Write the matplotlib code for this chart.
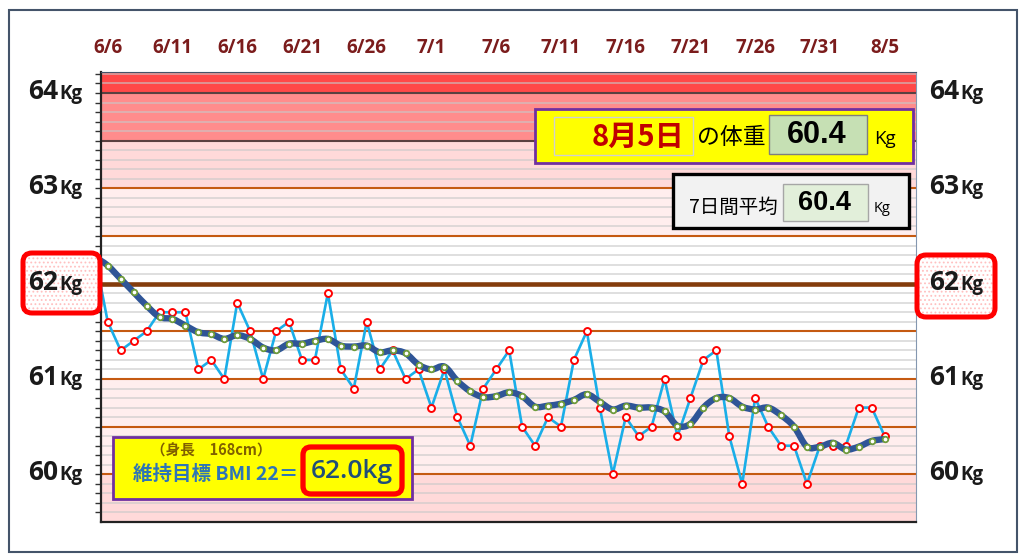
import numpy as np
import pandas as pd
import matplotlib
matplotlib.use("Agg")
import matplotlib.pyplot as plt
import matplotlib.dates as mdates
import matplotlib.transforms as mtrans
from matplotlib.patches import Rectangle, FancyBboxPatch, PathPatch
from matplotlib.path import Path

plt.rcParams['font.family'] = ['Noto Sans CJK JP', 'DejaVu Sans']
plt.rcParams['hatch.linewidth'] = 0.8

# 6/5 は左端で切れる前日の値
dates = pd.date_range("2024-06-05", "2024-08-05", freq="D")
weight = [62.3, 61.6, 61.3, 61.4, 61.5, 61.7, 61.7, 61.7, 61.1, 61.2, 61.0,
          61.8, 61.5, 61.0, 61.5, 61.6, 61.2, 61.2, 61.9, 61.1, 60.9, 61.6,
          61.1, 61.3, 61.0, 61.1, 60.7, 61.1, 60.6, 60.3, 60.9, 61.1, 61.3,
          60.5, 60.3, 60.6, 60.5, 61.2, 61.5, 60.7, 60.0, 60.6, 60.4, 60.5,
          61.0, 60.4, 60.8, 61.2, 61.3, 60.4, 59.9, 60.8, 60.5, 60.3, 60.3,
          59.9, 60.3, 60.3, 60.3, 60.7, 60.7, 60.4]
avg7 = [62.28, 62.19, 62.05, 61.91, 61.77, 61.65, 61.63, 61.56, 61.49, 61.47,
        61.42, 61.46, 61.42, 61.33, 61.30, 61.37, 61.37, 61.40, 61.42, 61.35,
        61.34, 61.35, 61.28, 61.30, 61.27, 61.15, 61.10, 61.13, 60.98, 60.87,
        60.81, 60.82, 60.86, 60.82, 60.71, 60.72, 60.74, 60.78, 60.84, 60.76,
        60.68, 60.72, 60.70, 60.70, 60.66, 60.51, 60.53, 60.70, 60.80, 60.80,
        60.71, 60.68, 60.70, 60.62, 60.50, 60.29, 60.29, 60.33, 60.26, 60.29,
        60.35, 60.37]
tick_dates = dates[1::5]
tick_labels = [f"{d.month}/{d.day}" for d in tick_dates]
kg_levels = [64, 63, 62, 61, 60]
target_kg = 62.0
height_cm = 168
today_label = "8月5日"
today_weight = weight[-1]
week_avg = avg7[-1]

W, H = 1024, 560
fig = plt.figure(figsize=(W / 100, H / 100), dpi=100)
fig.patch.set_facecolor("white")
ax = fig.add_axes([101 / W, 1 - 522 / H, (916 - 101) / W, (522 - 72) / H])

# 背景の帯
bands = [(59.5, 60.0, "#FFD9D9"), (60.0, 61.0, "#FFEEEE"), (61.0, 62.5, "white"),
         (62.5, 63.0, "#FFEEEE"), (63.0, 63.5, "#FFD9D9"), (63.5, 64.0, "#FF8C8C"),
         (64.0, 64.3, "#FF4848")]
for lo, hi, c in bands:
    ax.axhspan(lo, hi, color=c, lw=0, zorder=0)

for v in np.arange(59.6, 64.2, 0.1):
    ax.axhline(v, color="#C8C8C8", lw=1.1, alpha=0.75, zorder=1)
for v in [60.0, 60.5, 61.0, 61.5, 62.5, 63.0]:
    ax.axhline(v, color="#C55A11", lw=1.5, zorder=1.5)
for v in [63.5, 64.0]:
    ax.axhline(v, color="#5A4040", lw=1.5, zorder=1.5)
ax.axhline(target_kg, color="#843C0C", lw=3.3, zorder=2)

# 毎日の体重
ax.plot(dates, weight, color="#1AAEE8", lw=1.9, marker="o", ms=5,
        mfc="white", mec="#FF0000", mew=1.4, zorder=3)

# 7日間平均（なめらかな線）
xs = mdates.date2num(dates)
P = np.column_stack([xs, avg7])
verts = [P[0]]
codes = [Path.MOVETO]
for i in range(len(P) - 1):
    p0 = P[max(i - 1, 0)]
    p3 = P[min(i + 2, len(P) - 1)]
    c1 = P[i] + (P[i + 1] - p0) / 6
    c2 = P[i + 1] - (p3 - P[i]) / 6
    verts += [c1, c2, P[i + 1]]
    codes += [Path.CURVE4] * 3
ax.add_patch(PathPatch(Path(verts, codes), fc="none", ec="#2F5597", lw=4.6,
                       capstyle="round", joinstyle="round", zorder=4))
ax.plot(dates, avg7, ls="none", marker="o", ms=4, mfc="white", mec="#6E9B3A",
        mew=1.3, zorder=5)

x0 = mdates.date2num(dates[1]) - 0.52
x1 = mdates.date2num(dates[-1]) + 2.42
ax.set_xlim(x0, x1)
ax.set_ylim(59.5, 64.22)

ax.xaxis.tick_top()
ax.set_xticks(tick_dates)
ax.set_xticklabels(tick_labels, fontsize=13.5, fontweight="bold", color="#7B1C1C",
                   family=["Open Sans", "DejaVu Sans"])
ax.tick_params(axis="x", length=0, pad=10)
ax.set_yticks([])
ax.set_yticks(np.arange(59.6, 64.2, 0.1), minor=True)
ax.tick_params(axis="y", which="minor", length=4, width=1, color="#333333",
               direction="out", labelleft=False)
for s in ["left", "bottom"]:
    ax.spines[s].set_color("#222222")
    ax.spines[s].set_linewidth(1.6)
ax.spines["top"].set_color("#44546A")
ax.spines["right"].set_color("#8497B0")

# 上に重ねる注釈用の軸（ピクセル座標）
ov = fig.add_axes([0, 0, 1, 1])
ov.set_xlim(0, W)
ov.set_ylim(H, 0)
ov.axis("off")
ov.patch.set_alpha(0)


def rbox(xa, ya, xb, yb, fc, ec, lw, r=0.0, **kw):
    if r > 0:
        p = FancyBboxPatch((xa, ya), xb - xa, yb - ya,
                           boxstyle=f"round,pad=0,rounding_size={r}",
                           fc=fc, ec=ec, lw=lw, **kw)
    else:
        p = Rectangle((xa, ya), xb - xa, yb - ya, fc=fc, ec=ec, lw=lw, **kw)
    ov.add_patch(p)
    return p


# 全体の枠
rbox(8.5, 9.5, 1016.5, 551.5, "none", "#44546A", 1.5)

# 62kg 強調枠（左右）
for xa, ya, xb, yb in [(23, 253, 100, 313), (917, 255, 995, 317)]:
    rbox(xa, ya, xb, yb, "white", "#FFC0C0", 0, r=9, hatch="....")
    rbox(xa, ya, xb, yb, "none", "#FF0000", 3.6, r=9)

# 縦軸の目盛ラベル
lab_font = ["Open Sans", "DejaVu Sans"]
trans = mtrans.blended_transform_factory(fig.transFigure, ax.transData)
trans = mtrans.offset_copy(trans, fig=fig, y=-6, units="dots")
for v in kg_levels:
    for xn in [58, 959]:
        fig.text(xn / W, v, f"{v}", transform=trans, ha="right", va="baseline",
                 fontsize=19, fontweight="bold", family=lab_font, color="#1A1A1A")
        fig.text((xn + 1) / W, v, "Kg", transform=trans, ha="left", va="baseline",
                 fontsize=13.5, fontweight="bold", family=lab_font, color="#1A1A1A")

# 今日の体重
narrow = ["Liberation Sans", "DejaVu Sans"]
rbox(535, 109, 913, 163, "#FFFF00", "#7030A0", 2)
rbox(554, 117, 693, 155, "#FFFF00", "#D0D0D0", 1)
ov.text(684, 137, today_label, ha="right", va="center", fontsize=21,
        fontweight="bold", color="#C00000")
ov.text(731, 137, "の体重", ha="center", va="center", fontsize=16.5, color="black")
rbox(769, 115, 867, 154, "#C6E0B4", "#7F7F7F", 1)
ov.text(817, 135, f"{today_weight:.1f}", ha="center", va="center", fontsize=22,
        fontweight="bold", color="black", family=narrow)
ov.text(885, 139, "Kg", ha="center", va="center", fontsize=13.5, color="black",
        family=lab_font)

# 7日間平均
rbox(673, 174, 909, 228, "#F2F2F2", "black", 2.4)
ov.text(733, 207, "7日間平均", ha="center", va="center", fontsize=14, color="black")
rbox(783, 184, 868, 221, "#E2EFDA", "#A6A6A6", 1)
ov.text(824, 203, f"{week_avg:.1f}", ha="center", va="center", fontsize=19.5,
        fontweight="bold", color="black", family=narrow)
ov.text(882, 209, "Kg", ha="center", va="center", fontsize=10.5, color="black",
        family=lab_font)

# BMI 目標
rbox(113, 437, 412, 499, "#FFFF00", "#7030A0", 2)
ov.text(211, 451, f"（身長　{height_cm}cm）", ha="center", va="center",
        fontsize=10.5, fontweight="bold", color="#806000")
ov.text(133, 474, "維持目標 BMI 22＝", ha="left", va="center", fontsize=14,
        fontweight="bold", color="#2E75B6")
rbox(303, 447, 402, 494, "#FFFF00", "#FF0000", 3.8, r=8)
ov.text(352, 471, f"{target_kg:.1f}kg", ha="center", va="center", fontsize=19,
        fontweight="semibold", color="#1F4E79", family=lab_font)

fig.savefig("out.png", dpi=100)
